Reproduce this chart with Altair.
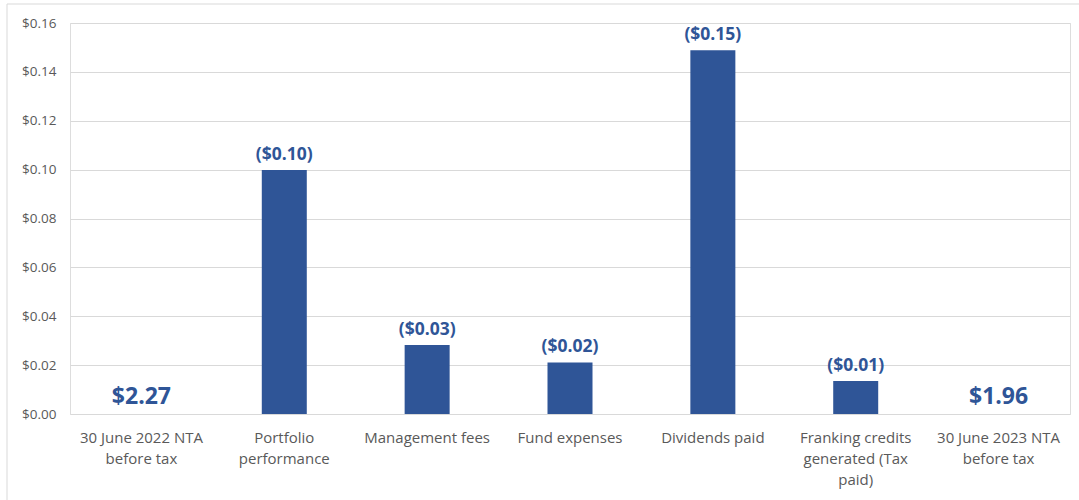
import altair as alt
import pandas as pd

categories = [
    "30 June 2022 NTA|before tax",
    "Portfolio|performance",
    "Management fees",
    "Fund expenses",
    "Dividends paid",
    "Franking credits|generated (Tax|paid)",
    "30 June 2023 NTA|before tax",
]
change_values = [None, 0.0998, 0.0282, 0.0211, 0.1489, 0.0135, None]
nta_values = [2.27, None, None, None, None, None, 1.96]
y_ticks = [0.00, 0.02, 0.04, 0.06, 0.08, 0.10, 0.12, 0.14, 0.16]

BLUE = "#2F5597"
GREY = "#595959"
FONT = "Open Sans"

df = pd.DataFrame({"cat": categories, "val": change_values, "nta": nta_values})
df["lbl"] = [f"(${v:.2f})" if pd.notna(v) else "" for v in df["val"]]
df["ntalbl"] = [f"${v:.2f}" if pd.notna(v) else "" for v in df["nta"]]
df["zero"] = 0.0

xenc = alt.X(
    "cat:N",
    sort=categories,
    scale=alt.Scale(paddingInner=0.0, paddingOuter=0.0),
    axis=alt.Axis(
        title=None,
        labelAngle=0,
        labelExpr="split(datum.label, '|')",
        labelFont=FONT,
        labelFontSize=15,
        labelColor=GREY,
        labelLineHeight=21,
        labelPadding=16,
        labelBaseline="top",
        ticks=False,
        domain=False,
        grid=False,
        labelLimit=200,
    ),
)
yscale = alt.Scale(domain=[0, 0.16], nice=False)
yaxis = alt.Axis(
    title=None,
    values=y_ticks,
    format="$.2f",
    labelFont=FONT,
    labelFontSize=13.5,
    labelColor=GREY,
    labelPadding=14,
    ticks=False,
    domain=False,
    grid=True,
    gridColor="#D9D9D9",
    gridWidth=1,
)

base = alt.Chart(df)

bars = base.transform_filter("isValid(datum.val)").mark_bar(color=BLUE, size=45).encode(
    x=xenc,
    y=alt.Y("val:Q", scale=yscale, axis=yaxis),
)

bar_labels = base.transform_filter("isValid(datum.val)").mark_text(
    color=BLUE, font=FONT, fontWeight="bold", fontSize=17.5, baseline="bottom", dy=-6
).encode(
    x=alt.X("cat:N", sort=categories),
    y=alt.Y("val:Q", scale=yscale),
    text="lbl:N",
)

nta_labels = base.transform_filter("isValid(datum.nta)").mark_text(
    color=BLUE, font=FONT, fontWeight="bold", fontSize=23, baseline="bottom", dy=-5
).encode(
    x=alt.X("cat:N", sort=categories),
    y=alt.Y("zero:Q", scale=yscale),
    text="ntalbl:N",
)

border_left = alt.Chart(pd.DataFrame({"a": [0]})).mark_rule(color="#D9D9D9", strokeWidth=1).encode(
    x=alt.value(-63), y=alt.value(-19), y2=alt.value(500)
)
border_top = alt.Chart(pd.DataFrame({"a": [0]})).mark_rule(color="#D9D9D9", strokeWidth=1).encode(
    x=alt.value(-63), x2=alt.value(1010), y=alt.value(-19)
)

chart = alt.layer(bars, bar_labels, nta_labels, border_left, border_top).properties(
    width=1000,
    height=391,
    autosize=alt.AutoSizeParams(type="none"),
    padding={"left": 70, "top": 23, "right": 9, "bottom": 86},
).configure_view(stroke=None).configure(background="white")

chart.save("out.html", embed_options={"renderer": "svg", "actions": False})
